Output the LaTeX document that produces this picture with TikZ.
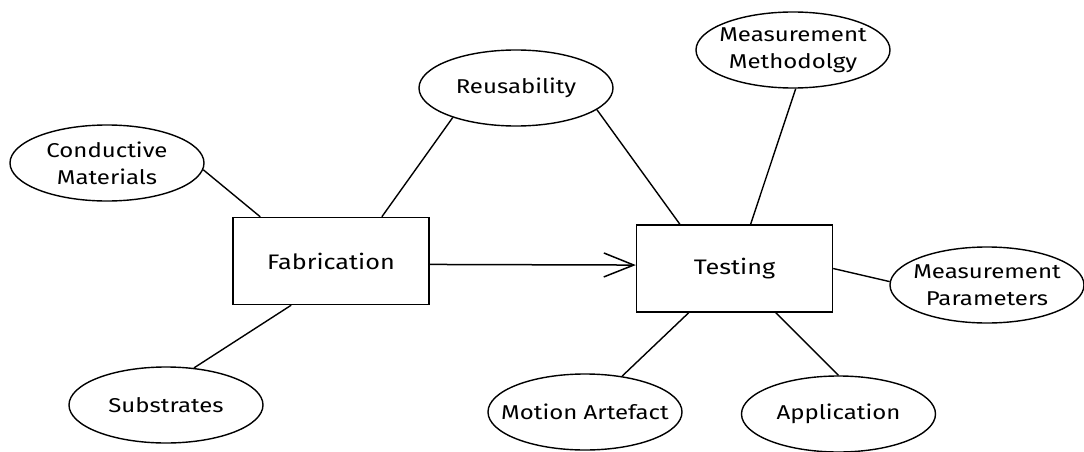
\documentclass[tikz,border=0pt]{standalone}
\usepackage{fontspec}
\setmainfont{Fira Sans}[FakeStretch=1.2]
\usetikzlibrary{shapes.geometric,arrows.meta}
\begin{document}
\begin{tikzpicture}[x=1pt,y=-1pt,
  bubble/.style={draw=black,line width=1.4pt,ellipse,minimum width=194pt,minimum height=76pt,inner xsep=-50pt,inner ysep=-15pt,align=center,font=\fontsize{20}{27}\selectfont},
  stagebox/.style={draw=black,line width=1.4pt,rectangle,minimum width=196pt,minimum height=87pt,inner sep=0pt,font=\fontsize{21}{25}\selectfont},
  link/.style={draw=black,line width=1.4pt},
  flow/.style={draw=black,line width=1.5pt,-{Straight Barb[length=30pt,width=24pt,line width=1.5pt]}}]
\useasboundingbox (0,0) rectangle (1084,452);
\node[stagebox] (fab) at (331,261) {Fabrication};
\node[stagebox] (test) at (734.5,268.5) {Testing};
\node[bubble] (cond) at (107,163) {Conductive\\Materials};
\node[bubble] (sub) at (166,405) {Substrates};
\node[bubble] (reus) at (516,88) {Reusability};
\node[bubble] (meth) at (793,50) {Measurement\\Methodolgy};
\node[bubble] (param) at (987,285) {Measurement\\Parameters};
\node[bubble] (motion) at (585,412) {Motion Artefact};
\node[bubble] (app) at (838.5,414) {Application};
\draw[link] (cond.-4) -- (fab.148);
\draw[link] (fab.41) -- (reus.205);
\draw[link] (fab.228.5) -- (sub.53);
\draw[link] (reus.-15) -- (test.141.4);
\draw[flow] (fab.-2.3) -- (test.178);
\draw[link] (test.70.4) -- (meth.-86);
\draw[link] (test.0) -- (param.178);
\draw[link] (test.224.4) -- (motion.44);
\draw[link] (test.-47) -- (app.90);
\end{tikzpicture}
\end{document}
